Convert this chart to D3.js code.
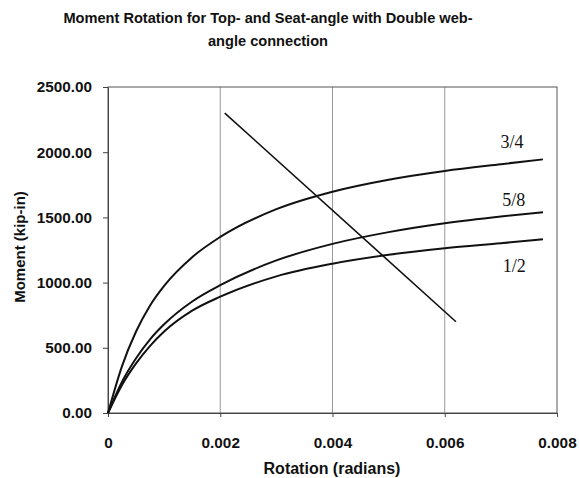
<!DOCTYPE html>
<html>
<head>
<meta charset="utf-8">
<script src="https://cdn.jsdelivr.net/npm/d3@7/dist/d3.min.js"></script>
<style>
  html, body { margin: 0; padding: 0; background: #fff; }
  svg { display: block; }
</style>
</head>
<body>
<svg id="chart" width="579" height="478"></svg>
<script>
// ---- Data ----
const rotation = [0, 0.00025, 0.0005, 0.00075, 0.001, 0.0015, 0.002, 0.003, 0.004, 0.005, 0.006, 0.007, 0.00775];
const moment34 = [0, 360, 625, 825, 975, 1195, 1350, 1563, 1697, 1789, 1856, 1908, 1945];
const moment58 = [0, 240, 420, 565, 680, 855, 980, 1170, 1297, 1387, 1455, 1507, 1540];
const moment12 = [0, 215, 380, 515, 625, 785, 892, 1048, 1145, 1213, 1263, 1302, 1332];
const seriesLabels = ["3/4", "5/8", "1/2"];
const diagRotation = [0.00208, 0.0062];
const diagMoment = [2300, 700];
const xTicks = [0, 0.002, 0.004, 0.006, 0.008];
const xTickLabels = ["0", "0.002", "0.004", "0.006", "0.008"];
const yTicks = [0, 500, 1000, 1500, 2000, 2500];
const yTickLabels = ["0.00", "500.00", "1000.00", "1500.00", "2000.00", "2500.00"];
const titleLines = ["Moment Rotation for Top- and Seat-angle with Double web-", "angle connection"];
const xTitle = "Rotation (radians)";
const yTitle = "Moment (kip-in)";

// ---- Layout ----
const svg = d3.select("#chart");
const L = 108, R = 557, T = 87, B = 413;
const x = d3.scaleLinear().domain([0, 0.008]).range([L, R]);
const y = d3.scaleLinear().domain([0, 2500]).range([B, T]);
const font = "'Liberation Sans', Arial, sans-serif";

// title
svg.append("g").selectAll("text").data(titleLines).join("text")
  .attr("x", 268).attr("y", (d, i) => 23 + i * 23)
  .attr("text-anchor", "middle")
  .attr("font-family", font).attr("font-weight", "bold").attr("font-size", 14.6)
  .attr("fill", "#111").text(d => d);

// vertical grid lines
svg.append("g").selectAll("line").data(xTicks.slice(1, -1)).join("line")
  .attr("x1", d => x(d)).attr("x2", d => x(d))
  .attr("y1", T).attr("y2", B)
  .attr("stroke", "#999").attr("stroke-width", 1);

// frame
svg.append("rect").attr("x", L).attr("y", T).attr("width", R - L).attr("height", B - T)
  .attr("fill", "none").attr("stroke", "#555").attr("stroke-width", 1);

// axes
const xAxis = d3.axisBottom(x).tickValues(xTicks).tickFormat((d, i) => xTickLabels[i])
  .tickSizeInner(4).tickSizeOuter(0).tickPadding(20);
const gx = svg.append("g").attr("transform", `translate(0,${B})`).call(xAxis);
const yAxis = d3.axisLeft(y).tickValues(yTicks).tickFormat((d, i) => yTickLabels[i])
  .tickSizeInner(5).tickSizeOuter(0).tickPadding(11);
const gy = svg.append("g").attr("transform", `translate(${L},0)`).call(yAxis);
[gx, gy].forEach(g => {
  g.select(".domain").attr("stroke", "#444");
  g.selectAll(".tick line").attr("stroke", "#444");
  g.selectAll(".tick text").attr("font-family", font).attr("font-weight", "bold")
    .attr("font-size", 15.3).attr("fill", "#111");
});

// axis titles
svg.append("text").attr("x", 332).attr("y", 474).attr("text-anchor", "middle")
  .attr("font-family", font).attr("font-weight", "bold").attr("font-size", 16)
  .attr("fill", "#111").text(xTitle);
svg.append("text").attr("transform", "translate(25,247) rotate(-90)").attr("text-anchor", "middle")
  .attr("font-family", font).attr("font-weight", "bold").attr("font-size", 15)
  .attr("fill", "#111").text(yTitle);

// curves
const line = d3.line().x(d => x(d[0])).y(d => y(d[1])).curve(d3.curveMonotoneX);
const series = [moment34, moment58, moment12];
svg.append("g").selectAll("path").data(series).join("path")
  .attr("d", s => line(rotation.map((r, i) => [r, s[i]])))
  .attr("fill", "none").attr("stroke", "#111").attr("stroke-width", 2);

// diagonal line
svg.append("path")
  .attr("d", d3.line().x(d => x(d[0])).y(d => y(d[1]))(diagRotation.map((r, i) => [r, diagMoment[i]])))
  .attr("fill", "none").attr("stroke", "#111").attr("stroke-width", 1.6);

// series labels
const labelPos = [[0.0072, 2035], [0.00723, 1590], [0.00724, 1080]];
svg.append("g").selectAll("text").data(seriesLabels).join("text")
  .attr("x", (d, i) => x(labelPos[i][0])).attr("y", (d, i) => y(labelPos[i][1]))
  .attr("text-anchor", "middle")
  .attr("font-family", "'Liberation Serif', 'Times New Roman', serif").attr("font-size", 18)
  .attr("fill", "#111").text(d => d);
</script>
</body>
</html>
